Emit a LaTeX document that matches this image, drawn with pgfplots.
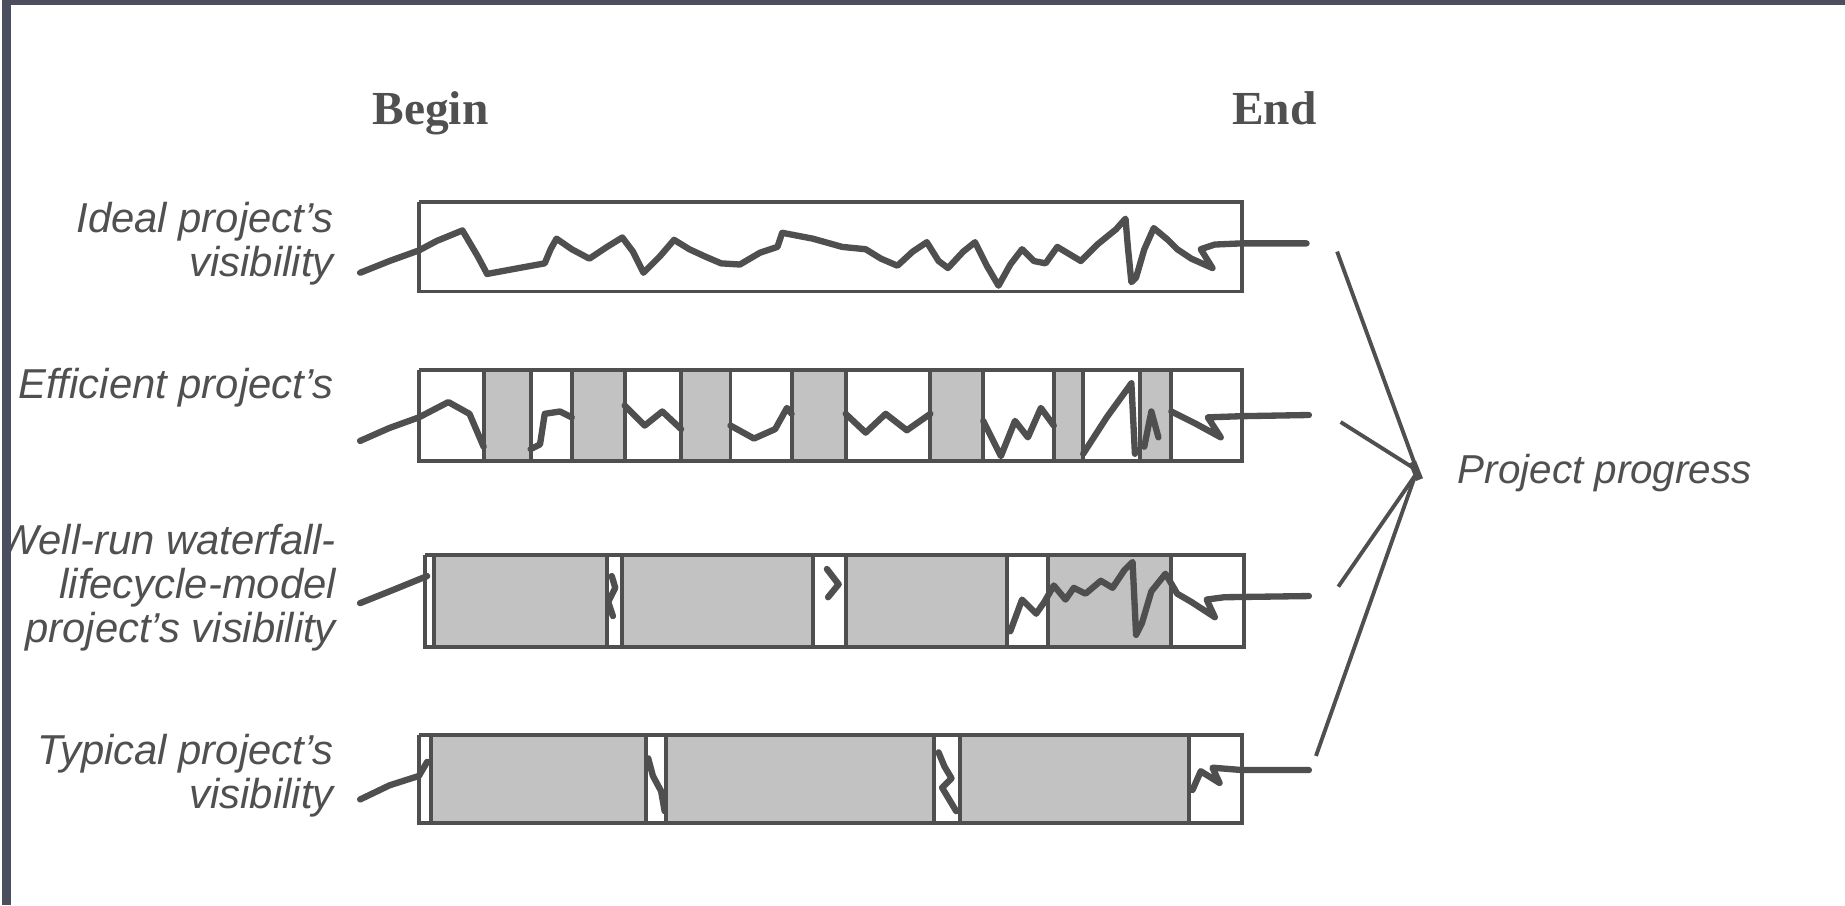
\documentclass[border=0pt]{standalone}
\usepackage{fontspec}
\setmainfont{Liberation Serif}
\setsansfont{Liberation Sans}
\usepackage{pgfplots}
\pgfplotsset{compat=1.18}

\definecolor{ink}{HTML}{4F4F4F}
\definecolor{txt}{HTML}{505050}
\definecolor{shade}{HTML}{C2C2C2}
\definecolor{frame}{HTML}{4A4E5E}

\tikzset{
  box/.style={draw=ink, line width=1.1pt},
  sh/.style={fill=shade, draw=none},
  dv/.style={draw=ink, line width=1.1pt},
  zig/.style={draw=ink, line width=1.8pt, line join=round, line cap=round},
  lbl/.style={anchor=east, align=right, text=txt, inner sep=0pt,
    font=\sffamily\itshape\fontsize{11.9}{12.6}\selectfont},
}

\begin{document}
\begin{tikzpicture}
\begin{axis}[
  width=18.45cm, height=9.06cm, scale only axis,
  xmin=0, xmax=1568, ymin=0, ymax=770, y dir=reverse,
  hide axis, clip=false,
]
% page and scan frame
\addplot[fill=white, draw=none] coordinates {(0,0) (1568,0) (1568,770) (0,770)};

% ---- row 1: ideal
\addplot[box] coordinates {(355,172) (1055,172) (1055,248) (355,248) (355,172)};
\addplot[zig] coordinates {
 (305,232) (330,222) (355,213) (370,205) (392,196) (405,218) (413,233) (440,228)
 (462,224) (467,212) (472,203) (485,212) (500,220) (515,210) (528,202) (537,214)
 (546,232) (560,218) (572,204) (585,212) (598,218) (612,224) (628,225) (645,215)
 (660,210) (664,198) (690,203) (715,210) (735,212) (748,220) (762,226) (775,214)
 (787,206) (797,222) (805,228) (818,214) (828,206) (838,226) (848,243) (858,225)
 (868,212) (878,222) (888,224) (898,210) (908,216) (918,222) (932,208) (948,195)
 (956,186) (958,210) (961,240) (965,236) (972,212) (980,194) (992,204) (1000,212)
 (1012,220) (1030,228) (1020,212) (1032,208) (1055,207) (1110,207)};

% ---- row 2: efficient
\addplot[sh] coordinates {(410,315) (450,315) (450,392) (410,392)};
\addplot[sh] coordinates {(485,315) (530,315) (530,392) (485,392)};
\addplot[sh] coordinates {(578,315) (620,315) (620,392) (578,392)};
\addplot[sh] coordinates {(672,315) (718,315) (718,392) (672,392)};
\addplot[sh] coordinates {(790,315) (835,315) (835,392) (790,392)};
\addplot[sh] coordinates {(895,315) (920,315) (920,392) (895,392)};
\addplot[sh] coordinates {(968,315) (995,315) (995,392) (968,392)};
\addplot[dv] coordinates {(410,315) (410,392)};
\addplot[dv] coordinates {(450,315) (450,392)};
\addplot[dv] coordinates {(485,315) (485,392)};
\addplot[dv] coordinates {(530,315) (530,392)};
\addplot[dv] coordinates {(578,315) (578,392)};
\addplot[dv] coordinates {(620,315) (620,392)};
\addplot[dv] coordinates {(672,315) (672,392)};
\addplot[dv] coordinates {(718,315) (718,392)};
\addplot[dv] coordinates {(790,315) (790,392)};
\addplot[dv] coordinates {(835,315) (835,392)};
\addplot[dv] coordinates {(895,315) (895,392)};
\addplot[dv] coordinates {(920,315) (920,392)};
\addplot[dv] coordinates {(968,315) (968,392)};
\addplot[dv] coordinates {(995,315) (995,392)};
\addplot[box] coordinates {(355,315) (1055,315) (1055,392) (355,392) (355,315)};
\addplot[zig] coordinates {(305,375) (330,364) (355,355) (380,342) (398,352) (410,380)};
\addplot[zig] coordinates {(450,382) (458,378) (462,352) (475,350) (485,355)};
\addplot[zig] coordinates {(530,345) (547,362) (562,350) (578,365)};
\addplot[zig] coordinates {(620,362) (640,373) (658,365) (668,347) (672,352)};
\addplot[zig] coordinates {(718,352) (735,368) (752,352) (770,366) (790,352)};
\addplot[zig] coordinates {(835,358) (850,388) (862,358) (873,372) (884,347) (895,362)};
\addplot[zig] coordinates {(920,386) (940,355) (961,326) (964,386)};
\addplot[zig] coordinates {(972,380) (978,350) (984,372)};
\addplot[zig] coordinates {(995,350) (1015,360) (1037,372) (1026,355) (1055,354) (1112,353)};

% ---- row 3: waterfall
\addplot[sh] coordinates {(368,472) (515,472) (515,550) (368,550)};
\addplot[sh] coordinates {(528,472) (690,472) (690,550) (528,550)};
\addplot[sh] coordinates {(718,472) (855,472) (855,550) (718,550)};
\addplot[sh] coordinates {(890,472) (995,472) (995,550) (890,550)};
\addplot[dv] coordinates {(368,472) (368,550)};
\addplot[dv] coordinates {(515,472) (515,550)};
\addplot[dv] coordinates {(528,472) (528,550)};
\addplot[dv] coordinates {(690,472) (690,550)};
\addplot[dv] coordinates {(718,472) (718,550)};
\addplot[dv] coordinates {(855,472) (855,550)};
\addplot[dv] coordinates {(890,472) (890,550)};
\addplot[dv] coordinates {(995,472) (995,550)};
\addplot[box] coordinates {(360,472) (1057,472) (1057,550) (360,550) (360,472)};
\addplot[zig] coordinates {(305,513) (335,501) (362,490)};
\addplot[zig] coordinates {(519,490) (522,500) (516,512) (520,524)};
\addplot[zig] coordinates {(702,484) (712,497) (703,508)};
\addplot[zig] coordinates {
 (858,537) (868,510) (880,522) (887,512) (895,498) (905,510) (912,500) (922,505)
 (935,494) (945,500) (955,485) (962,478) (965,540) (970,530) (978,503) (990,488)
 (1000,505) (1012,512) (1032,525) (1025,510) (1040,508) (1112,507)};

% ---- row 4: typical
\addplot[sh] coordinates {(365,625) (548,625) (548,700) (365,700)};
\addplot[sh] coordinates {(565,625) (793,625) (793,700) (565,700)};
\addplot[sh] coordinates {(815,625) (1010,625) (1010,700) (815,700)};
\addplot[dv] coordinates {(365,625) (365,700)};
\addplot[dv] coordinates {(548,625) (548,700)};
\addplot[dv] coordinates {(565,625) (565,700)};
\addplot[dv] coordinates {(793,625) (793,700)};
\addplot[dv] coordinates {(815,625) (815,700)};
\addplot[dv] coordinates {(1010,625) (1010,700)};
\addplot[box] coordinates {(355,625) (1055,625) (1055,700) (355,700) (355,625)};
\addplot[zig] coordinates {(305,680) (330,668) (355,660) (362,648)};
\addplot[zig] coordinates {(550,645) (554,660) (561,673) (564,690)};
\addplot[zig] coordinates {(797,640) (802,652) (808,662) (800,670) (812,690)};
\addplot[zig] coordinates {(1013,672) (1020,656) (1036,666) (1030,653) (1055,655) (1112,655)};

% ---- converging lines
\addplot[draw=ink, line width=1.1pt] coordinates {(1136,214) (1204,400)};
\addplot[draw=ink, line width=1.1pt] coordinates {(1139,359) (1204,400)};
\addplot[draw=ink, line width=1.1pt] coordinates {(1137,499) (1204,402)};
\addplot[draw=ink, line width=1.1pt] coordinates {(1118,643) (1204,400)};
\addplot[draw=ink, line width=2.2pt] coordinates {(1200,393) (1206,408)};

% ---- text
\node[anchor=base west, inner sep=0pt, text=txt, font=\bfseries\fontsize{13.5}{14}\selectfont]
  at (axis cs:315,106) {Begin};
\node[anchor=base west, inner sep=0pt, text=txt, font=\bfseries\fontsize{13.5}{14}\selectfont]
  at (axis cs:1046,106) {End};
\node[lbl] at (axis cs:283,207) {Ideal project's\\visibility};
\node[lbl] at (axis cs:283,330) {Efficient project's};
\node[lbl] at (axis cs:285,500) {Well-run waterfall-\\lifecycle-model\\project's visibility};
\node[lbl] at (axis cs:283,660) {Typical project's\\visibility};
\node[anchor=west, inner sep=0pt, text=txt, font=\sffamily\itshape\fontsize{11.5}{12.6}\selectfont]
  at (axis cs:1238,402) {Project progress};

% scan frame on top
\addplot[fill=frame, draw=none] coordinates {(0,0) (8,0) (8,770) (0,770)};
\addplot[fill=frame, draw=none] coordinates {(0,0) (1568,0) (1568,4) (0,4)};
\end{axis}
\end{tikzpicture}
\end{document}
